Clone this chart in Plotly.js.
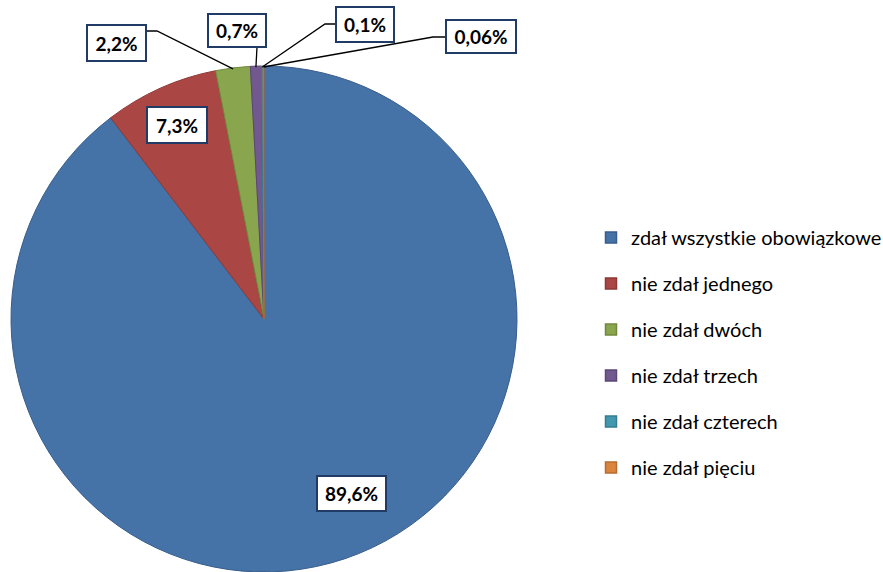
<!DOCTYPE html>
<html><head><meta charset="utf-8">
<script src="https://cdn.plot.ly/plotly-3.0.1.min.js"></script>
<style>html,body{margin:0;padding:0;background:#fff}#chart{width:883px;height:572px}</style>
</head><body><div id="chart"></div>
<script>
// ---- data ----
const categories = ["zdał wszystkie obowiązkowe","nie zdał jednego","nie zdał dwóch","nie zdał trzech","nie zdał czterech","nie zdał pięciu"];
const values = [89.6, 7.3, 2.2, 0.7, 0.1, 0.06];
const valueLabels = ["89,6%","7,3%","2,2%","0,7%","0,1%","0,06%"];
const colors = ["#4572A7","#AA4643","#89A54E","#71588F","#4198AF","#DB843D"];
const borderColors = ["#385D8A","#8C3836","#71893F","#5C4776","#357D91","#B66D31"];

// ---- layout geometry (pixels) ----
const W = 883, H = 572;
const cx = 264, cy = 319, R = 253;
const px = x => x / W, py = y => 1 - y / H;

// label placement: inside labels by radius fraction + angle tweak, outside labels by box + elbow
const placement = [
  {inside: true, r: 0.772, dtheta: -8, w: 69, h: 35},
  {inside: true, r: 0.839, dtheta: 0, w: 60, h: 36},
  {box: [116.5, 43], w: 59, h: 36, elbow: [157, 31], attach: [146, 31]},
  {box: [237, 30.5], w: 58, h: 33, elbow: null, attach: [257, 47]},
  {box: [365, 24.5], w: 58, h: 35, elbow: [325, 24], attach: [336, 24]},
  {box: [481, 36.5], w: 70, h: 33, elbow: [433, 37], attach: [446, 37]}
];

const total = values.reduce((a, b) => a + b, 0);
let cum = 0;
const midAngles = values.map(v => { const m = (cum + v / 2) / total * 360; cum += v; return m; });
const polar = (theta, r) => [cx + r * Math.sin(theta * Math.PI / 180), cy - r * Math.cos(theta * Math.PI / 180)];

const annotations = [], shapes = [];
values.forEach((v, i) => {
  const p = placement[i];
  let pos;
  if (p.inside) {
    pos = polar(midAngles[i] + p.dtheta, p.r * R);
  } else {
    pos = p.box;
    const edge = polar(midAngles[i], R - 1);
    const pts = [edge];
    if (p.elbow) pts.push(p.elbow);
    pts.push(p.attach);
    shapes.push({
      type: 'path', xref: 'paper', yref: 'paper',
      path: pts.map((q, k) => (k ? 'L' : 'M') + px(q[0]) + ',' + py(q[1])).join(' '),
      line: {color: '#000000', width: 1.3}
    });
  }
  annotations.push({
    xref: 'paper', yref: 'paper', x: px(pos[0]), y: py(pos[1]),
    xanchor: 'center', yanchor: 'middle', showarrow: false,
    text: '<b>' + valueLabels[i] + '</b>',
    font: {family: 'Lato, "Open Sans", sans-serif', size: 19, color: '#000000'},
    bgcolor: '#ffffff', bordercolor: '#1F3B66', borderwidth: 2, borderpad: 0,
    width: p.w - 2, height: p.h - 2
  });
});

const traces = [{
  type: 'pie', labels: categories, values: values, sort: false,
  direction: 'clockwise', rotation: 0, textinfo: 'none', hoverinfo: 'skip',
  showlegend: false,
  marker: {colors: colors, line: {color: borderColors, width: 1}},
  domain: {x: [px(cx - R), px(cx + R)], y: [py(cy + R), py(cy - R)]}
}];
categories.forEach((c, i) => {
  traces.push({
    type: 'scatter', mode: 'markers', x: [null], y: [null], name: c,
    legendgroup: 'g' + i, hoverinfo: 'skip',
    marker: {symbol: 'square', size: 11, color: colors[i], line: {color: borderColors[i], width: 1.5}}
  });
});

const layout = {
  width: W, height: H, margin: {l: 0, r: 0, t: 0, b: 0, autoexpand: false},
  paper_bgcolor: '#ffffff', plot_bgcolor: '#ffffff',
  xaxis: {visible: false}, yaxis: {visible: false},
  showlegend: true,
  legend: {
    x: px(591), y: py(218), xanchor: 'left', yanchor: 'top',
    tracegroupgap: 17, bgcolor: 'rgba(0,0,0,0)',
    font: {family: 'Lato, "Open Sans", sans-serif', size: 20, color: '#000000'}
  },
  annotations: annotations, shapes: shapes
};
Plotly.newPlot('chart', traces, layout, {displayModeBar: false, staticPlot: true});
</script></body></html>
